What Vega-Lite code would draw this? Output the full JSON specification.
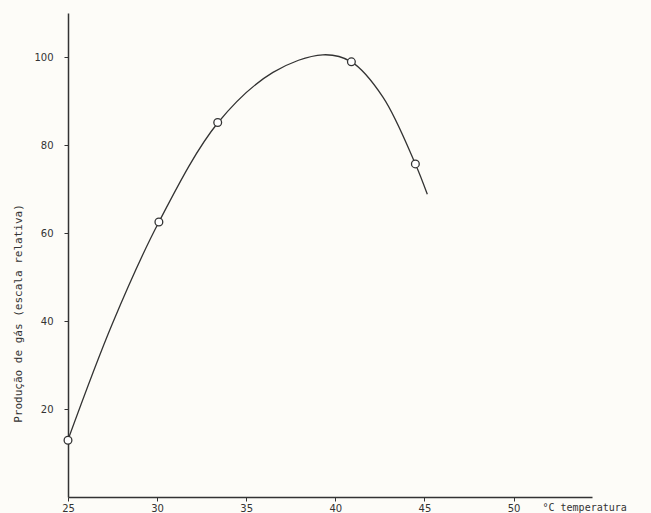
{
  "$schema": "https://vega.github.io/schema/vega-lite/v6.json",
  "width": 524,
  "height": 484,
  "autosize": {"type": "none"},
  "padding": {"left": 68, "top": 13, "right": 59, "bottom": 16},
  "background": "#fdfcf8",
  "config": {"view": {"stroke": null}},
  "datasets": {
    "curve": [
      {"t": 25, "g": 13},
      {"t": 27.5, "g": 39.5},
      {"t": 30.1, "g": 62.5},
      {"t": 33.4, "g": 85},
      {"t": 36.5, "g": 96.5},
      {"t": 39.3, "g": 100.5},
      {"t": 40.9, "g": 98.9},
      {"t": 42.67, "g": 90.9},
      {"t": 44.49, "g": 75.7},
      {"t": 45.16, "g": 68.8}
    ],
    "obs": [
      {"t": 25, "g": 12.9},
      {"t": 30.1, "g": 62.5},
      {"t": 33.4, "g": 85.1},
      {"t": 40.9, "g": 98.9},
      {"t": 44.49, "g": 75.7}
    ]
  },
  "layer": [
    {
      "data": {"name": "curve"},
      "mark": {"type": "line", "interpolate": "catmull-rom", "color": "#333333", "strokeWidth": 1.3},
      "encoding": {
        "x": {
          "field": "t", "type": "quantitative",
          "scale": {"domain": [25, 54.4], "nice": false, "zero": false},
          "axis": {
            "values": [25, 30, 35, 40, 45, 50],
            "grid": false,
            "labelFlush": false,
            "domainColor": "#333333", "domainWidth": 1.5,
            "tickColor": "#333333", "tickSize": 4,
            "labelFont": "DejaVu Sans", "labelFontSize": 10, "labelColor": "#333333",
            "labelPadding": 2,
            "title": "°C  temperatura",
            "titleFont": "DejaVu Sans Mono", "titleFontSize": 10, "titleFontWeight": "normal",
            "titleColor": "#333333",
            "titleX": 474, "titleY": 10, "titleAlign": "left", "titleBaseline": "middle"
          }
        },
        "y": {
          "field": "g", "type": "quantitative",
          "scale": {"domain": [0, 110], "nice": false},
          "axis": {
            "values": [20, 40, 60, 80, 100],
            "grid": false,
            "domainColor": "#333333", "domainWidth": 1.5,
            "tickColor": "#333333", "tickSize": 4,
            "labelFont": "DejaVu Sans", "labelFontSize": 10, "labelColor": "#333333",
            "labelPadding": 11,
            "title": "Produção de gás (escala relativa)",
            "titleFont": "DejaVu Sans Mono", "titleFontSize": 11, "titleFontWeight": "normal",
            "titleColor": "#333333",
            "titleX": -50, "titleY": 300, "titleAlign": "center", "titleBaseline": "middle"
          }
        }
      }
    },
    {
      "data": {"name": "obs"},
      "mark": {"type": "point", "shape": "circle", "filled": true, "fill": "#ffffff", "stroke": "#333333", "strokeWidth": 1.3, "size": 60, "opacity": 1},
      "encoding": {
        "x": {"field": "t", "type": "quantitative"},
        "y": {"field": "g", "type": "quantitative"}
      }
    }
  ]
}
